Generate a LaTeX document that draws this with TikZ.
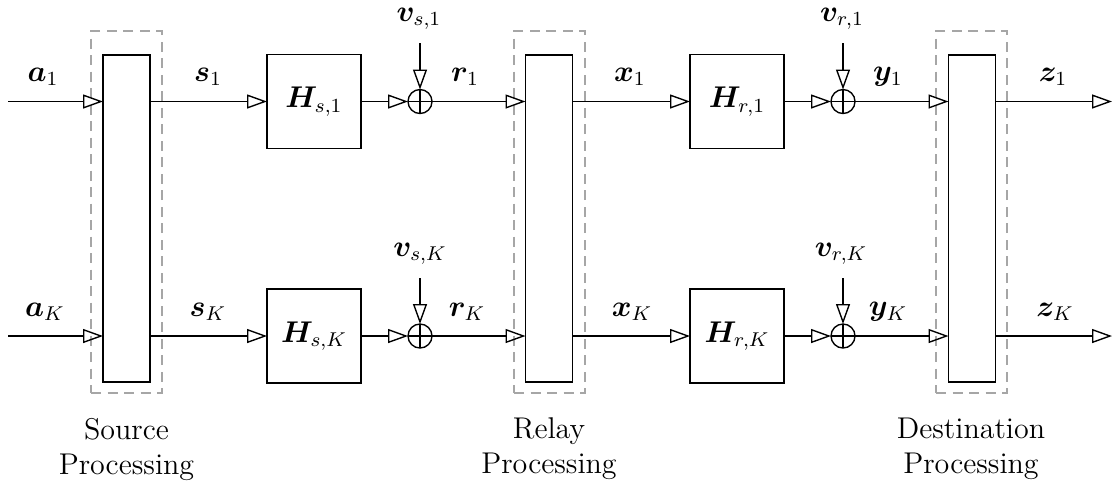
\documentclass[tikz,border=0pt]{standalone}
\usepackage{amsmath,bm}
\usetikzlibrary{arrows.meta}
\begin{document}
\begin{tikzpicture}[x=0.4pt,y=-0.4pt,
  every node/.style={font=\fontsize{12}{14}\selectfont},
  arr/.style={line width=0.55pt,-{Triangle[open,length=8pt,width=5.6pt]}},
  blk/.style={draw,line width=0.55pt,minimum width=18.8pt,minimum height=130.8pt,inner sep=0,outer sep=0},
  dbox/.style={draw=black!35,line width=0.55pt,dash pattern=on 4pt off 2.6pt,minimum width=28.4pt,minimum height=144.8pt,inner sep=0,outer sep=0},
  hbox/.style={draw,line width=0.55pt,minimum size=37.6pt,inner sep=0,outer sep=0},
  sumnode/.style={draw,circle,line width=0.55pt,minimum size=9.6pt,inner sep=0,outer sep=0,
    path picture={\draw[line width=0.55pt] (path picture bounding box.north) -- (path picture bounding box.south)
      (path picture bounding box.west) -- (path picture bounding box.east);}},
  lbl/.style={inner sep=0},
  txt/.style={align=center,inner sep=0}]
\useasboundingbox (0,0) rectangle (1117,483);
% dashed boxes
\node[dbox] (SD) at (126.5,212) {};
\node[dbox] (RD) at (549.5,212) {};
\node[dbox] (DD) at (971.5,212) {};
% processing blocks
\node[blk] (S) at (126.5,218.5) {};
\node[blk] (R) at (549,218.5) {};
\node[blk] (D) at (972,218.5) {};
% channel boxes
\node[hbox] (Hs1) at (314,101.5) {$\bm{H}_{s,1}$};
\node[hbox] (HsK) at (314,336) {$\bm{H}_{s,K}$};
\node[hbox] (Hr1) at (737,101.5) {$\bm{H}_{r,1}$};
\node[hbox] (HrK) at (737,336) {$\bm{H}_{r,K}$};
% adders
\node[sumnode] (sums1) at (420,101.5) {};
\node[sumnode] (sumsK) at (420,336) {};
\node[sumnode] (sumr1) at (843,101.5) {};
\node[sumnode] (sumrK) at (843,336) {};
% free ends
\coordinate (a1) at (8,101.5);
\coordinate (aK) at (8,336);
\coordinate (z1) at (1112,101.5);
\coordinate (zK) at (1112,336);
\coordinate (ns1) at (420,43);
\coordinate (nsK) at (420,278);
\coordinate (nr1) at (843,43);
\coordinate (nrK) at (843,278);
% connectors
\draw[arr] (a1) -- (S.west |- a1);
\draw[arr] (aK) -- (S.west |- aK);
\draw[arr] (S.east |- Hs1) -- (Hs1);
\draw[arr] (S.east |- HsK) -- (HsK);
\draw[arr] (Hs1) -- (sums1);
\draw[arr] (HsK) -- (sumsK);
\draw[arr] (ns1) -- (sums1);
\draw[arr] (nsK) -- (sumsK);
\draw[arr] (sums1) -- (R.west |- sums1);
\draw[arr] (sumsK) -- (R.west |- sumsK);
\draw[arr] (R.east |- Hr1) -- (Hr1);
\draw[arr] (R.east |- HrK) -- (HrK);
\draw[arr] (Hr1) -- (sumr1);
\draw[arr] (HrK) -- (sumrK);
\draw[arr] (nr1) -- (sumr1);
\draw[arr] (nrK) -- (sumrK);
\draw[arr] (sumr1) -- (D.west |- sumr1);
\draw[arr] (sumrK) -- (D.west |- sumrK);
\draw[arr] (D.east |- z1) -- (z1);
\draw[arr] (D.east |- zK) -- (zK);
% signal labels
\node[lbl] (la1) at (43,77) {$\bm{a}_1$};
\node[lbl] (laK) at (45,312) {$\bm{a}_K$};
\node[lbl] (ls1) at (208,77) {$\bm{s}_1$};
\node[lbl] (lsK) at (208,312) {$\bm{s}_K$};
\node[lbl] (lr1) at (465,77) {$\bm{r}_1$};
\node[lbl] (lrK) at (467,312) {$\bm{r}_K$};
\node[lbl] (lx1) at (630,77) {$\bm{x}_1$};
\node[lbl] (lxK) at (632,312) {$\bm{x}_K$};
\node[lbl] (ly1) at (888,77) {$\bm{y}_1$};
\node[lbl] (lyK) at (888,312) {$\bm{y}_K$};
\node[lbl] (lz1) at (1053,77) {$\bm{z}_1$};
\node[lbl] (lzK) at (1055,312) {$\bm{z}_K$};
\node[lbl] (lvs1) at (419,19) {$\bm{v}_{s,1}$};
\node[lbl] (lvsK) at (420,254) {$\bm{v}_{s,K}$};
\node[lbl] (lvr1) at (842,19) {$\bm{v}_{r,1}$};
\node[lbl] (lvrK) at (841,254) {$\bm{v}_{r,K}$};
% stage names
\node[txt] (tS) at (126.5,449) {Source\\Processing};
\node[txt] (tR) at (549,449) {Relay\\Processing};
\node[txt] (tD) at (971,449) {Destination\\Processing};
\end{tikzpicture}
\end{document}
